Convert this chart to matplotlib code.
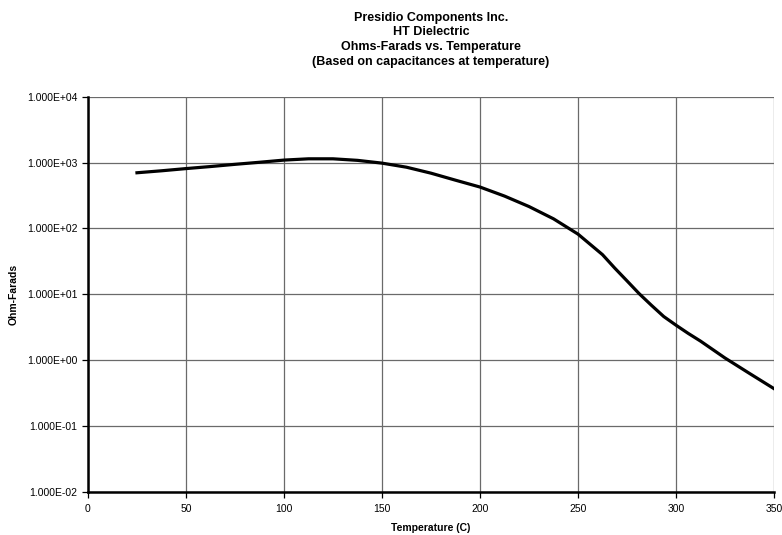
import numpy as np
import matplotlib
matplotlib.use('Agg')
import matplotlib.pyplot as plt
from matplotlib.ticker import FixedLocator, FuncFormatter

plt.rcParams['font.family'] = ['Liberation Sans', 'DejaVu Sans']

# Ohm-Farads measured vs temperature
temperature = [25, 37.5, 50, 62.5, 75, 87.5, 100, 112.5, 125, 137.5, 150, 162.5, 175,
               187.5, 200, 212.5, 225, 237.5, 250, 262.5, 268.75, 275, 281.25, 287.5,
               293.75, 300, 306.25, 312.5, 325, 337.5, 350]
ohm_farads = [700, 750, 810, 870, 940, 1010, 1090, 1140, 1140, 1080, 980, 850, 690,
              540, 425, 310, 215, 140, 82, 40, 25, 16, 10.2, 6.8,
              4.6, 3.4, 2.55, 1.95, 1.08, 0.63, 0.37]

x_ticks = [0, 50, 100, 150, 200, 250, 300, 350]
y_ticks = [1e-2, 1e-1, 1e0, 1e1, 1e2, 1e3, 1e4]

fig = plt.figure(figsize=(7.82, 5.35), dpi=100)
ax = fig.add_axes([0.1125, 0.0804, 0.8773, 0.7389])

ax.plot(temperature, ohm_farads, color='black', linewidth=2.3, zorder=3,
        solid_joinstyle='round')

ax.set_yscale('log')
ax.set_xlim(0, 350)
ax.set_ylim(1e-2, 1e4)
ax.xaxis.set_major_locator(FixedLocator(x_ticks))
ax.yaxis.set_major_locator(FixedLocator(y_ticks))
ax.yaxis.set_minor_locator(FixedLocator([]))
ax.yaxis.set_major_formatter(FuncFormatter(lambda v, p: '%.3E' % v))

ax.grid(True, color='#6a6a6a', linewidth=0.9)
ax.set_axisbelow(True)
for side in ['top', 'right']:
    ax.spines[side].set_visible(False)
for side in ['left', 'bottom']:
    ax.spines[side].set_linewidth(1.8)
    ax.spines[side].set_color('black')

ax.tick_params(axis='both', labelsize=7.5, length=4, width=0.9, direction='out',
               colors='black')
ax.tick_params(axis='x', pad=5)

ax.set_xlabel('Temperature (C)', fontsize=7.5, fontweight='bold', labelpad=6)
ax.set_ylabel('Ohm-Farads', fontsize=7.5, fontweight='bold', labelpad=6)

ax.set_title('Presidio Components Inc.\nHT Dielectric\nOhms-Farads vs. Temperature\n'
             '(Based on capacitances at temperature)',
             fontsize=9, fontweight='bold', linespacing=1.3, pad=23)

fig.savefig('out.png', dpi=100)
